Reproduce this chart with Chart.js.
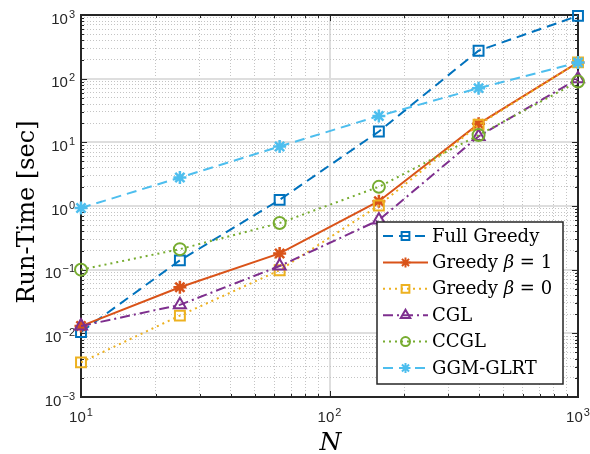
<!DOCTYPE html>
<html>
<head>
<meta charset="utf-8">
<script src="https://cdn.jsdelivr.net/npm/chart.js@4.4.1/dist/chart.umd.min.js"></script>
<style>
    html, body { margin: 0; padding: 0; background: #fff; }
    #wrap { width: 590px; height: 454px; position: relative; }
</style>
</head>
<body>
<div id="wrap"><canvas id="runTimeChart"></canvas></div>
<script>
// problem sizes (x axis)
const sizes = [10, 25, 63, 158, 398, 1000];

// run time in seconds
const fullGreedy = [0.0105, 0.14, 1.25, 14.8, 275, 970];
const greedyBeta1 = [0.013, 0.053, 0.18, 1.19, 19.5, 180];
const greedyBeta0 = [0.0035, 0.019, 0.098, 1.02, 18.9, 180];
const cgl = [0.013, 0.028, 0.114, 0.6, 12.4, 100];
const ccgl = [0.1, 0.21, 0.54, 2.0, 13, 90];
const ggmGlrt = [0.93, 2.8, 8.6, 26, 71, 180];

const seriesLabels = ["Full Greedy", "Greedy \u03b2 = 1", "Greedy \u03b2 = 0", "CGL", "CCGL", "GGM-GLRT"];

// tick labels (powers of ten)
const xTickExps = [1, 2, 3];
const yTickExps = [-3, -2, -1, 0, 1, 2, 3];

const colors = ["#0072bd", "#d95319", "#edb120", "#7e2f8e", "#77ac30", "#4dbeee"];

function makeSet(label, values, color, style, dash, radius) {
    return {
        label: label,
        data: sizes.map((n, i) => ({ x: n, y: values[i] })),
        borderColor: color,
        backgroundColor: color,
        borderWidth: 2,
        borderDash: dash,
        pointStyle: style,
        pointRadius: radius,
        pointBorderWidth: style === "star" ? 2.5 : 2,
        pointBackgroundColor: style === "star" ? color : "rgba(0,0,0,0)",
        pointBorderColor: color,
        tension: 0,
        clip: false
    };
}

const datasets = [
    makeSet(seriesLabels[0], fullGreedy, colors[0], "rect", [10, 6], 7),
    makeSet(seriesLabels[1], greedyBeta1, colors[1], "star", [], 6.5),
    makeSet(seriesLabels[2], greedyBeta0, colors[2], "rect", [2, 4], 7),
    makeSet(seriesLabels[3], cgl, colors[3], "triangle", [10, 4, 2, 4], 7),
    makeSet(seriesLabels[4], ccgl, colors[4], "circle", [2, 4], 6),
    makeSet(seriesLabels[5], ggmGlrt, colors[5], "star", [10, 6], 6.5)
];
// later series on top, like the original plot
datasets.forEach((d, i) => { d.order = datasets.length - i; });

function isDecade(v) {
    const e = Math.log10(v);
    return Math.abs(e - Math.round(e)) < 1e-9;
}

function logTicks(minExp, maxExp) {
    const list = [];
    for (let e = minExp; e < maxExp; e++) {
        for (let m = 1; m <= 9; m++) {
            list.push({ value: m * Math.pow(10, e), major: m === 1 });
        }
    }
    list.push({ value: Math.pow(10, maxExp), major: true });
    return list;
}

const gridOpts = {
    drawTicks: false,
    lineWidth: ctx => (ctx.tick && isDecade(ctx.tick.value)) ? 2 : 1,
    color: ctx => (ctx.tick && isDecade(ctx.tick.value)) ? "#dedede" : "#c4c4c4"
};
const borderOpts = {
    display: false,
    dash: ctx => (ctx.tick && isDecade(ctx.tick.value)) ? [] : [1, 2]
};

function drawPowerLabel(ctx, exp, x, y, align) {
    const base = "10";
    const sup = String(exp).replace("-", "\u2212");
    ctx.font = "15px 'Liberation Sans', Arial, sans-serif";
    const bw = ctx.measureText(base).width;
    ctx.font = "11px 'Liberation Sans', Arial, sans-serif";
    const sw = ctx.measureText(sup).width;
    let left = align === "right" ? x - bw - sw - 1 : x - (bw + sw + 1) / 2;
    ctx.textAlign = "left";
    ctx.textBaseline = "alphabetic";
    ctx.font = "15px 'Liberation Sans', Arial, sans-serif";
    ctx.fillText(base, left, y);
    ctx.font = "11px 'Liberation Sans', Arial, sans-serif";
    ctx.fillText(sup, left + bw + 1, y - 6);
}

const frameAndLabels = {
    id: "frameAndLabels",
    beforeDatasetsDraw(chart) {
        const { ctx, chartArea: a, scales } = chart;
        ctx.save();
        ctx.strokeStyle = "#262626";
        ctx.lineWidth = 1;
        // inside tick marks on all four sides
        scales.x.ticks.forEach(t => {
            const px = Math.round(scales.x.getPixelForValue(t.value)) + 0.5;
            const len = isDecade(t.value) ? 6 : 3;
            ctx.beginPath();
            ctx.moveTo(px, a.bottom); ctx.lineTo(px, a.bottom - len);
            ctx.moveTo(px, a.top); ctx.lineTo(px, a.top + len);
            ctx.stroke();
        });
        scales.y.ticks.forEach(t => {
            const py = Math.round(scales.y.getPixelForValue(t.value)) + 0.5;
            const len = isDecade(t.value) ? 6 : 3;
            ctx.beginPath();
            ctx.moveTo(a.left, py); ctx.lineTo(a.left + len, py);
            ctx.moveTo(a.right, py); ctx.lineTo(a.right - len, py);
            ctx.stroke();
        });
        ctx.lineWidth = 2;
        ctx.strokeRect(a.left, a.top, a.right - a.left, a.bottom - a.top);

        // tick labels
        ctx.fillStyle = "#262626";
        xTickExps.forEach(e => {
            const px = scales.x.getPixelForValue(Math.pow(10, e));
            drawPowerLabel(ctx, e, px, a.bottom + 25, "center");
        });
        yTickExps.forEach(e => {
            const py = scales.y.getPixelForValue(Math.pow(10, e));
            drawPowerLabel(ctx, e, a.left - 6, py + 8.5, "right");
        });

        // axis titles
        ctx.fillStyle = "#000";
        ctx.font = "italic 25px 'DejaVu Serif', serif";
        ctx.textAlign = "center";
        ctx.textBaseline = "alphabetic";
        ctx.fillText("N", (a.left + a.right) / 2 + 1, 450);
        ctx.save();
        ctx.translate(34, (a.top + a.bottom) / 2 + 6);
        ctx.rotate(-Math.PI / 2);
        ctx.font = "24px 'DejaVu Serif', serif";
        ctx.fillText("Run-Time [sec]", 0, 0);
        ctx.restore();
        ctx.restore();
    }
};

function drawLegendText(ctx, text, x, y) {
    // italic beta as in the original legend
    const parts = text.split("\u03b2");
    ctx.font = "18px 'DejaVu Serif', serif";
    ctx.fillText(parts[0], x, y);
    if (parts.length > 1) {
        let cx = x + ctx.measureText(parts[0]).width;
        ctx.font = "italic 18px 'DejaVu Serif', serif";
        ctx.fillText("\u03b2", cx, y);
        cx += ctx.measureText("\u03b2").width;
        ctx.font = "18px 'DejaVu Serif', serif";
        ctx.fillText(parts[1], cx, y);
    }
}

const insideLegend = {
    id: "insideLegend",
    afterDatasetsDraw(chart) {
        const { ctx, chartArea: a } = chart;
        const boxLeft = a.right - 201;
        const boxRight = a.right - 15;
        const boxTop = 222;
        const boxBottom = 384;
        const rowH = 26.4;
        ctx.save();
        ctx.fillStyle = "#fff";
        ctx.fillRect(boxLeft, boxTop, boxRight - boxLeft, boxBottom - boxTop);
        ctx.strokeStyle = "#262626";
        ctx.lineWidth = 1.5;
        ctx.strokeRect(boxLeft, boxTop, boxRight - boxLeft, boxBottom - boxTop);

        chart.data.datasets.forEach((ds, i) => {
            const y = boxTop + 14 + i * rowH;
            ctx.save();
            ctx.strokeStyle = ds.borderColor;
            ctx.lineWidth = 2;
            ctx.setLineDash(ds.borderDash);
            ctx.beginPath();
            ctx.moveTo(boxLeft + 6, y);
            ctx.lineTo(boxLeft + 51, y);
            ctx.stroke();
            ctx.setLineDash([]);
            ctx.fillStyle = ds.pointBackgroundColor;
            ctx.lineWidth = 2;
            Chart.helpers.drawPoint(ctx, {
                pointStyle: ds.pointStyle,
                radius: ds.pointRadius - 1.5,
                rotation: 0,
                borderWidth: 2
            }, boxLeft + 28.5, y);
            ctx.restore();
            ctx.fillStyle = "#000";
            ctx.textAlign = "left";
            ctx.textBaseline = "middle";
            drawLegendText(ctx, ds.label, boxLeft + 55, y + 1);
        });
        ctx.restore();
    }
};

new Chart(document.getElementById("runTimeChart"), {
    type: "line",
    data: { datasets: datasets },
    options: {
        responsive: true,
        maintainAspectRatio: false,
        animation: false,
        layout: {
            padding: { left: 81, top: 15, right: 12, bottom: 57 }
        },
        plugins: {
            legend: { display: false },
            tooltip: { enabled: false }
        },
        scales: {
            x: {
                type: "logarithmic",
                min: 10,
                max: 1000,
                afterBuildTicks: axis => { axis.ticks = logTicks(1, 3); },
                ticks: { display: false },
                grid: gridOpts,
                border: borderOpts
            },
            y: {
                type: "logarithmic",
                min: 0.001,
                max: 1000,
                afterBuildTicks: axis => { axis.ticks = logTicks(-3, 3); },
                ticks: { display: false },
                grid: gridOpts,
                border: borderOpts
            }
        }
    },
    plugins: [frameAndLabels, insideLegend]
});
</script>
</body>
</html>
